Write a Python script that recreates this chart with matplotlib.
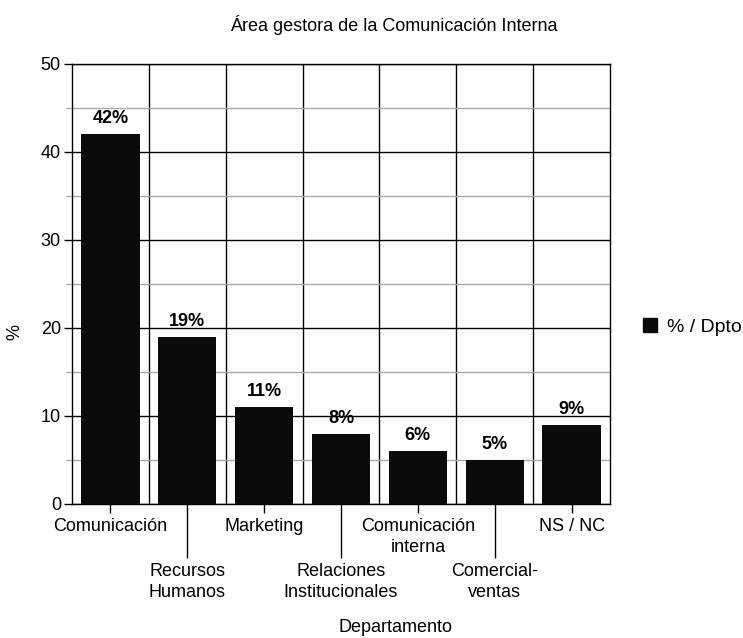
import matplotlib
matplotlib.use("Agg")
import matplotlib.pyplot as plt
from matplotlib.patches import Patch
from matplotlib.ticker import MultipleLocator

plt.rcParams['font.family'] = ['Liberation Sans', 'DejaVu Sans']

categories = ["Comunicación", "Recursos\nHumanos", "Marketing", "Relaciones\nInstitucionales",
              "Comunicación\ninterna", "Comercial-\nventas", "NS / NC"]
values = [42, 19, 11, 8, 6, 5, 9]
bar_labels = ["42%", "19%", "11%", "8%", "6%", "5%", "9%"]
series_name = "% / Dpto"

fig = plt.figure(figsize=(7.43, 6.38), dpi=100)
ax = fig.add_axes([72/743, 1-504/638, (610-72)/743, (504-64)/638])

x = list(range(len(categories)))
ax.bar(x, values, width=0.76, color="#0a0a0a", zorder=3)
for xi, v, lab in zip(x, values, bar_labels):
    ax.annotate(lab, (xi, v), xytext=(0, 5), textcoords="offset points",
                ha="center", va="bottom", fontsize=13, fontweight="bold", zorder=4)

ax.set_xlim(-0.5, len(categories) - 0.5)
ax.set_ylim(0, 50)
ax.yaxis.set_major_locator(MultipleLocator(10))
ax.yaxis.set_minor_locator(MultipleLocator(5))
ax.grid(axis="y", which="major", color="black", linewidth=1, zorder=1)
ax.grid(axis="y", which="minor", color="#aaaaaa", linewidth=1, zorder=1)
for b in range(len(categories) - 1):
    ax.axvline(b + 0.5, color="black", linewidth=1, zorder=1)

ax.tick_params(axis="y", which="major", length=6, width=1, labelsize=13, pad=2)
ax.tick_params(axis="y", which="minor", length=4.5, width=1, color="#aaaaaa")

even = [i for i in x if i % 2 == 0]
odd = [i for i in x if i % 2 == 1]
ax.set_xticks(even, [categories[i] for i in even])
ax.set_xticks(odd, [categories[i] for i in odd], minor=True)
ax.tick_params(axis="x", which="major", length=6.5, width=1, labelsize=13, pad=3.5)
ax.tick_params(axis="x", which="minor", length=39, width=1, labelsize=13, pad=3.5)
for t in ax.get_xticklabels(minor=True) + ax.get_xticklabels():
    t.set_linespacing(1.3)

for s in ax.spines.values():
    s.set_color("black")
    s.set_linewidth(1)
    s.set_zorder(5)

fig.text(394/743, 1-25/638, "Área gestora de la Comunicación Interna", ha="center", va="center", fontsize=13)
fig.text(395/743, 1-628/638, "Departamento", ha="center", va="center", fontsize=13)
fig.text(15/743, 1-332/638, "%", ha="center", va="center", rotation=90, fontsize=13)

fig.legend(handles=[Patch(facecolor="#0a0a0a", edgecolor="#0a0a0a", label=series_name)],
           loc="center left", bbox_to_anchor=(643/743, 1-327/638), frameon=False,
           borderpad=0, borderaxespad=0,
           fontsize=14, handlelength=0.72, handleheight=0.72, handletextpad=0.5)

fig.savefig("out.png", dpi=100)
